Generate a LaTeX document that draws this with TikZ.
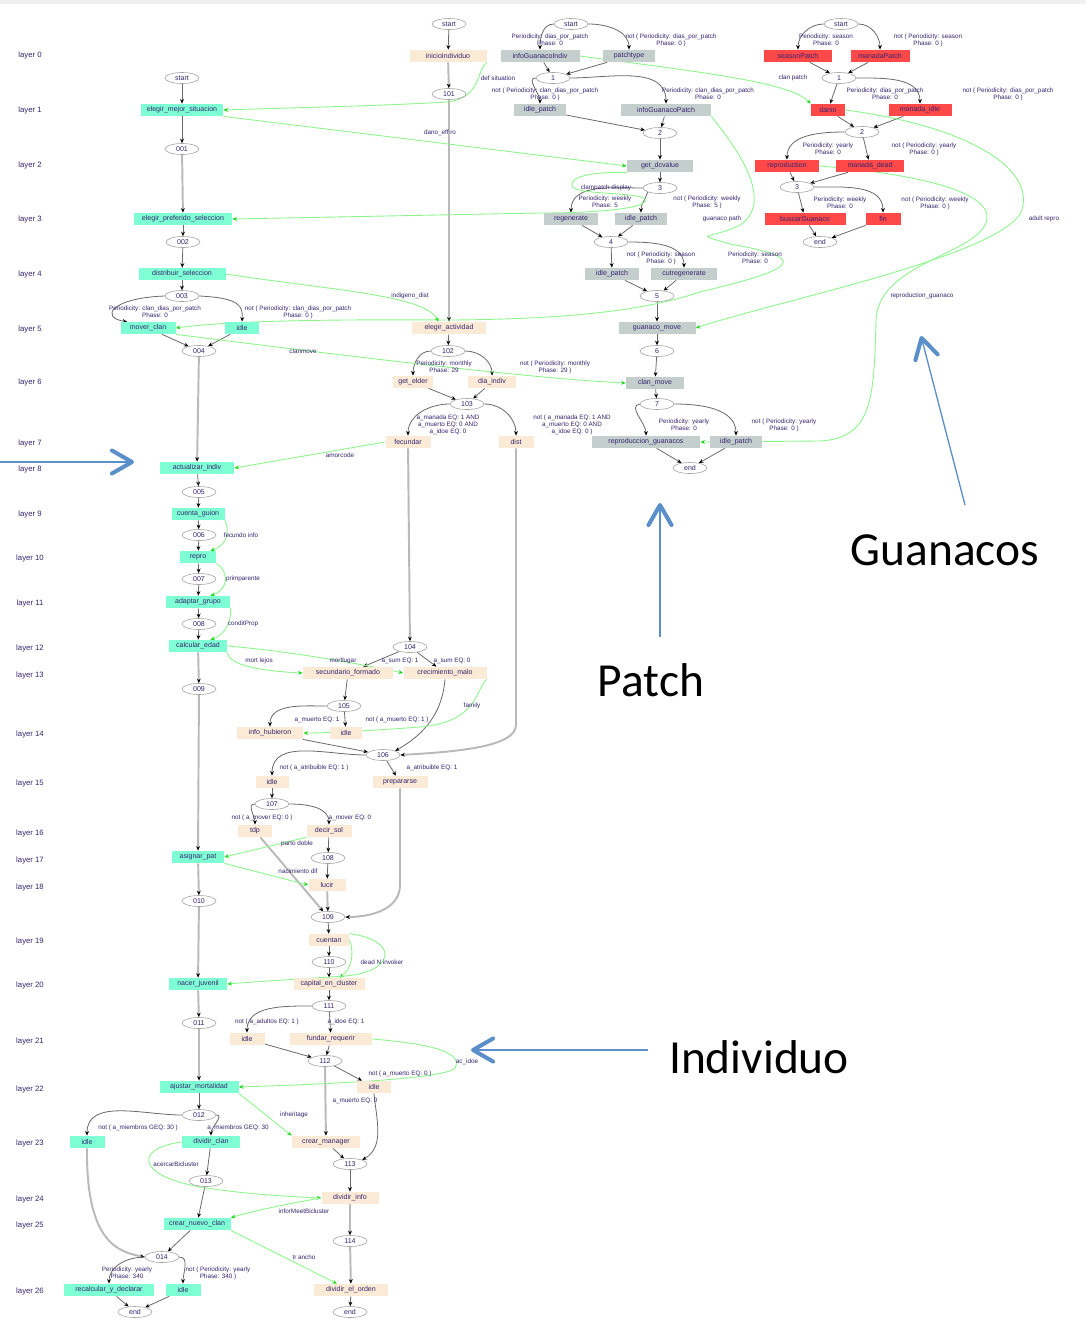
\documentclass[tikz,border=0pt]{standalone}
\usepackage{fontspec}
\setmainfont{Liberation Sans}
\newfontfamily\calloutfont{Carlito}
\usetikzlibrary{shapes.geometric,arrows.meta,positioning,backgrounds}

\definecolor{aqua}{RGB}{127,255,212}
\definecolor{peach}{RGB}{250,234,214}
\definecolor{patchgray}{RGB}{196,206,205}
\definecolor{guanred}{RGB}{255,72,72}
\definecolor{inktext}{RGB}{52,36,110}
\definecolor{edgegray}{RGB}{105,105,105}
\definecolor{linkgreen}{RGB}{140,245,140}
\definecolor{tipgreen}{RGB}{30,215,30}
\definecolor{callblue}{RGB}{91,143,201}

\begin{document}
\begin{tikzpicture}[x=0.02cm, y=-0.02cm,
    every node/.style={font=\fontsize{4}{4.6}\selectfont, text=inktext},
    boxw/.style={minimum width=#1*0.02cm},
    indbox/.style={rectangle, fill=aqua, minimum height=0.24cm, inner sep=1pt},
    actbox/.style={rectangle, fill=peach, minimum height=0.24cm, inner sep=1pt},
    patchbox/.style={rectangle, fill=patchgray, minimum height=0.24cm, inner sep=1pt},
    guanbox/.style={rectangle, fill=guanred, minimum height=0.24cm, inner sep=1pt},
    junction/.style={ellipse, draw=gray!70, fill=white, line width=0.35pt, minimum width=0.68cm, minimum height=0.22cm, inner sep=0pt},
    elabel/.style={font=\fontsize{3.6}{3.9}\selectfont, align=center, inner sep=0pt},
    layerlbl/.style={font=\fontsize{4.4}{5}\selectfont},
    flow/.style={draw=edgegray, line width=0.45pt, -{Stealth[length=2.6pt,width=2.2pt,color=black]}},
    trunk/.style={flow, draw=gray!55, line width=1.1pt},
    link/.style={draw=linkgreen, line width=0.5pt, -{Stealth[length=2.6pt,width=2.2pt,color=tipgreen]}},
    callout/.style={draw=callblue, line width=0.75pt, -{Straight Barb[length=4mm,width=4.6mm,line width=2.3pt,round]}},
    calltext/.style={font=\calloutfont\fontsize{27}{32}\selectfont, text=black, inner sep=0pt}]
\useasboundingbox (0,0) rectangle (1086,1319);

% layer numbers
\foreach \ly [count=\n from 0] in {55,110,165,219,274,329,382,443,469,514,558,603,648,675,734,783,833,860,887,941,985,1041,1089,1143,1199,1225,1291}
    \node (layer\n) [layerlbl] at (30,\ly) {layer \n};

% individual, main column
\node (sL) [junction] at (182,78) {start};
\node (g1) [indbox, boxw=82] at (182,110) {elegir\_mejor\_situacion};
\node (e001) [junction] at (182,149) {001};
\node (g2) [indbox, boxw=98] at (183,219) {elegir\_preferido\_seleccion};
\node (e002) [junction] at (183,242) {002};
\node (g3) [indbox, boxw=87] at (182,274) {distribuir\_seleccion};
\node (e003) [junction] at (182,296) {003};
\node (g4) [indbox, boxw=55] at (148,328) {mover\_clan};
\node (g5) [indbox, boxw=34] at (242,328) {idle};
\node (e004) [junction] at (199,351) {004};
\node (g6) [indbox, boxw=74] at (197,468) {actualizar\_indiv};
\node (e005) [junction] at (199,492) {005};
\node (g7) [indbox, boxw=53] at (198,514) {cuenta\_guion};
\node (e006) [junction] at (199,535) {006};
\node (g8) [indbox, boxw=36] at (198,557) {repro};
\node (e007) [junction] at (199,579) {007};
\node (g9) [indbox, boxw=64] at (198,602) {adaptar\_grupo};
\node (e008) [junction] at (199,624) {008};
\node (g10) [indbox, boxw=58] at (198,646) {calcular\_edad};
\node (e009) [junction] at (199,689) {009};
\node (g11) [indbox, boxw=52] at (198,857) {asignar\_pat};
\node (e010) [junction] at (199,901) {010};
\node (g12) [indbox, boxw=58] at (198,984) {nacer\_juvenil};
\node (e011) [junction] at (199,1023) {011};
\node (g13) [indbox, boxw=79] at (199,1087) {ajustar\_mortalidad};
\node (e012) [junction] at (199,1115) {012};
\node (g14) [indbox, boxw=35] at (87,1142) {idle};
\node (g15) [indbox, boxw=58] at (211,1142) {dividir\_clan};
\node (e013) [junction] at (206,1181) {013};
\node (g16) [indbox, boxw=67] at (197,1224) {crear\_nuevo\_clan};
\node (e014) [junction] at (162,1257) {014};
\node (g17) [indbox, boxw=90] at (109,1290) {recalcular\_y\_declarar};
\node (g18) [indbox, boxw=35] at (183,1290) {idle};
\node (endL) [junction] at (135,1312) {end};

% individual, actions
\node (sI) [junction] at (449,24) {start};
\node (p0) [actbox, boxw=77] at (448,56) {inicioIndividuo};
\node (e101) [junction] at (449,94) {101};
\node (p1) [actbox, boxw=74] at (449,328) {elegir\_actividad};
\node (e102) [junction] at (448,351) {102};
\node (p2) [actbox, boxw=40] at (413,382) {get\_elder};
\node (p3) [actbox, boxw=48] at (492,382) {dia\_indiv};
\node (e103) [junction] at (467,404) {103};
\node (p4) [actbox, boxw=45] at (408,442) {fecundar};
\node (p5) [actbox, boxw=35] at (516,442) {dist};
\node (e104) [junction] at (410,647) {104};
\node (p6) [actbox, boxw=90] at (348,673) {secundario\_formado};
\node (p7) [actbox, boxw=83] at (445,673) {crecimiento\_malo};
\node (e105) [junction] at (344,706) {105};
\node (p8) [actbox, boxw=66] at (270,733) {info\_hubieron};
\node (p9) [actbox, boxw=32] at (346,733) {idle};
\node (e106) [junction] at (383,755) {106};
\node (p10) [actbox, boxw=33] at (272,782) {idle};
\node (p11) [actbox, boxw=55] at (400,782) {prepararse};
\node (e107) [junction] at (272,804) {107};
\node (p12) [actbox, boxw=34] at (255,831) {tdp};
\node (p13) [actbox, boxw=45] at (329,831) {decir\_sol};
\node (e108) [junction] at (328,858) {108};
\node (p14) [actbox, boxw=37] at (327,885) {lucir};
\node (e109) [junction] at (328,917) {109};
\node (p15) [actbox, boxw=40] at (329,940) {cuentan};
\node (e110) [junction] at (329,962) {110};
\node (p16) [actbox, boxw=71] at (329,984) {capital\_en\_cluster};
\node (e111) [junction] at (329,1006) {111};
\node (p17) [actbox, boxw=35] at (247,1039) {idle};
\node (p18) [actbox, boxw=82] at (331,1039) {fundar\_requerir};
\node (e112) [junction] at (325,1061) {112};
\node (p19) [actbox, boxw=34] at (374,1087) {idle};
\node (p20) [actbox, boxw=68] at (326,1142) {crear\_manager};
\node (e113) [junction] at (350,1164) {113};
\node (p21) [actbox, boxw=57] at (350,1198) {dividir\_info};
\node (e114) [junction] at (350,1241) {114};
\node (p22) [actbox, boxw=74] at (351,1290) {dividir\_el\_orden};
\node (endM) [junction] at (350,1312) {end};

% patch
\node (sP) [junction] at (571,24) {start};
\node (pg1) [patchbox, boxw=79] at (540,56) {infoGuanacoIndiv};
\node (pg2) [patchbox, boxw=52] at (629,56) {patchtype};
\node (eP1) [junction] at (553,78) {1};
\node (pg3) [patchbox, boxw=52] at (540,110) {idle\_patch};
\node (pg4) [patchbox, boxw=90] at (666,110) {infoGuanacoPatch};
\node (eP2) [junction] at (660,133) {2};
\node (pg5) [patchbox, boxw=66] at (660,166) {get\_dcvalue};
\node (eP3) [junction] at (660,188) {3};
\node (pg6) [patchbox, boxw=54] at (571,219) {regenerate};
\node (pg7) [patchbox, boxw=52] at (641,219) {idle\_patch};
\node (eP4) [junction] at (611,242) {4};
\node (pg8) [patchbox, boxw=54] at (612,274) {idle\_patch};
\node (pg9) [patchbox, boxw=66] at (684,274) {cutregenerate};
\node (eP5) [junction] at (657,296) {5};
\node (pg10) [patchbox, boxw=77] at (657,328) {guanaco\_move};
\node (eP6) [junction] at (657,351) {6};
\node (pg11) [patchbox, boxw=58] at (655,383) {clan\_move};
\node (eP7) [junction] at (657,404) {7};
\node (pg12) [patchbox, boxw=108] at (646,442) {reproduccion\_guanacos};
\node (pg13) [patchbox, boxw=52] at (736,442) {idle\_patch};
\node (endP) [junction] at (690,468) {end};

% guanacos
\node (sG) [junction] at (841,24) {start};
\node (rg1) [guanbox, boxw=68] at (798,56) {seasonPatch};
\node (rg2) [guanbox, boxw=59] at (880,56) {manadaPatch};
\node (eG1) [junction] at (839,78) {1};
\node (rg3) [guanbox, boxw=34] at (828,110) {danio};
\node (rg4) [guanbox, boxw=63] at (920,110) {manada\_idle};
\node (eG2) [junction] at (862,132) {2};
\node (rg5) [guanbox, boxw=64] at (787,166) {reproduction};
\node (rg6) [guanbox, boxw=68] at (870,166) {manada\_dead};
\node (eG3) [junction] at (797,187) {3};
\node (rg7) [guanbox, boxw=81] at (805,219) {buscarGuanaco};
\node (rg8) [guanbox, boxw=35] at (883,219) {fin};
\node (endG) [junction] at (820,242) {end};

% branch labels
\node (lbA1) [elabel] at (155,312) {Periodicity: clan\_dias\_por\_patch\\Phase: 0};
\node (lbA2) [elabel] at (298,312) {not ( Periodicity: clan\_dias\_por\_patch\\Phase: 0 )};
\node (lbA3) [elabel] at (138,1128) {not ( a\_miembros GEQ: 30 )};
\node (lbA4) [elabel] at (238,1128) {a\_miembros GEQ: 30};
\node (lbA5) [elabel] at (127,1273) {Periodicity: yearly\\Phase: 340};
\node (lbA6) [elabel] at (218,1273) {not ( Periodicity: yearly\\Phase: 340 )};
\node (lbB1) [elabel] at (444,367) {Periodicity: monthly\\Phase: 29};
\node (lbB2) [elabel] at (555,367) {not ( Periodicity: monthly\\Phase: 29 )};
\node (lbB3) [elabel] at (448,425) {a\_manada EQ: 1 AND\\a\_muerto EQ: 0 AND\\a\_idoe EQ: 0};
\node (lbB4) [elabel] at (572,425) {not ( a\_manada EQ: 1 AND\\a\_muerto EQ: 0 AND\\a\_idoe EQ: 0 )};
\node (lbB5) [elabel] at (400,661) {a\_sum EQ: 1};
\node (lbB6) [elabel] at (452,661) {a\_sum EQ: 0};
\node (lbB7) [elabel] at (317,720) {a\_muerto EQ: 1};
\node (lbB8) [elabel] at (397,720) {not ( a\_muerto EQ: 1 )};
\node (lbB9) [elabel] at (314,768) {not ( a\_atribuible EQ: 1 )};
\node (lbB10) [elabel] at (432,768) {a\_atribuible EQ: 1};
\node (lbB11) [elabel] at (262,818) {not ( a\_mover EQ: 0 )};
\node (lbB12) [elabel] at (350,818) {a\_mover EQ: 0};
\node (lbB13) [elabel] at (267,1022) {not ( a\_adultos EQ: 1 )};
\node (lbB14) [elabel] at (346,1022) {a\_idoe EQ: 1};
\node (lbB15) [elabel] at (400,1074) {not ( a\_muerto EQ: 0 )};
\node (lbB16) [elabel] at (355,1101) {a\_muerto EQ: 0};
\node (lbC1) [elabel] at (550,40) {Periodicity: dias\_por\_patch\\Phase: 0};
\node (lbC2) [elabel] at (671,40) {not ( Periodicity: dias\_por\_patch\\Phase: 0 )};
\node (lbC3) [elabel] at (545,94) {not ( Periodicity: clan\_dias\_por\_patch\\Phase: 0 )};
\node (lbC4) [elabel] at (708,94) {Periodicity: clan\_dias\_por\_patch\\Phase: 0};
\node (lbC5) [elabel] at (605,202) {Periodicity: weekly\\Phase: 5};
\node (lbC6) [elabel] at (707,202) {not ( Periodicity: weekly\\Phase: 5 )};
\node (lbC7) [elabel] at (661,258) {not ( Periodicity: season\\Phase: 0 )};
\node (lbC8) [elabel] at (755,258) {Periodicity: season\\Phase: 0};
\node (lbC9) [elabel] at (684,425) {Periodicity: yearly\\Phase: 0};
\node (lbC10) [elabel] at (784,425) {not ( Periodicity: yearly\\Phase: 0 )};
\node (lbD1) [elabel] at (826,40) {Periodicity: season\\Phase: 0};
\node (lbD2) [elabel] at (928,40) {not ( Periodicity: season\\Phase: 0 )};
\node (lbD3) [elabel] at (885,94) {Periodicity: dias\_por\_patch\\Phase: 0};
\node (lbD4) [elabel] at (1008,94) {not ( Periodicity: dias\_por\_patch\\Phase: 0 )};
\node (lbD5) [elabel] at (828,149) {Periodicity: yearly\\Phase: 0};
\node (lbD6) [elabel] at (924,149) {not ( Periodicity: yearly\\Phase: 0 )};
\node (lbD7) [elabel] at (840,203) {Periodicity: weekly\\Phase: 0};
\node (lbD8) [elabel] at (935,203) {not ( Periodicity: weekly\\Phase: 0 )};

% message labels
\node (lbG1) [elabel] at (498,78) {def situation};
\node (lbG2) [elabel] at (440,133) {dano\_eff ro};
\node (lbG3) [elabel] at (793,78) {clan patch};
\node (lbG4) [elabel] at (1044,219) {adult repro};
\node (lbG5) [elabel] at (922,296) {reproduction\_guanaco};
\node (lbG6) [elabel] at (722,219) {guanaco path};
\node (lbG7) [elabel] at (606,188) {clampatch display};
\node (lbG8) [elabel] at (410,296) {indigeno\_dist};
\node (lbG9) [elabel] at (303,351) {clanmove};
\node (lbG10) [elabel] at (340,455) {amorcode};
\node (lbG11) [elabel] at (241,535) {fecundo info};
\node (lbG12) [elabel] at (243,579) {primparente};
\node (lbG13) [elabel] at (243,624) {conditProp};
\node (lbG14) [elabel] at (259,661) {mort lejos};
\node (lbG15) [elabel] at (343,661) {mortlugar};
\node (lbG16) [elabel] at (472,706) {family};
\node (lbG17) [elabel] at (297,844) {parto doble};
\node (lbG18) [elabel] at (298,871) {nacimiento dif};
\node (lbG19) [elabel] at (382,962) {dead N invoker};
\node (lbG20) [elabel] at (467,1062) {ac\_idoe};
\node (lbG21) [elabel] at (294,1115) {inheritage};
\node (lbG22) [elabel] at (176,1164) {acercarBicluster};
\node (lbG23) [elabel] at (304,1211) {inforMeetBicluster};
\node (lbG24) [elabel] at (304,1257) {tr ancho};

\begin{scope}[on background layer]
    \fill[white] (0,0) rectangle (1086,1319);
    \fill[gray!12] (0,0) rectangle (1086,4);

    % individual flow
    \draw[flow] (sL) -- (g1);
    \draw[flow] (g1) -- (e001);
    \draw[trunk] (e001) -- (g2);
    \draw[flow] (g2) -- (e002);
    \draw[flow] (e002) -- (g3);
    \draw[flow] (g3) -- (e003);
    \draw[flow] (e003.west) .. controls (110,298) and (100,318) .. ([xshift=4pt]g4.north west);
    \draw[flow] (e003.east) .. controls (240,298) and (243,306) .. (g5.north);
    \draw[flow] (g4) -- (e004);
    \draw[flow] (g5) -- (e004);
    \draw[trunk] (e004) -- (g6);
    \draw[flow] (g6) -- (e005);
    \draw[flow] (e005) -- (g7);
    \draw[flow] (g7) -- (e006);
    \draw[flow] (e006) -- (g8);
    \draw[flow] (g8) -- (e007);
    \draw[flow] (e007) -- (g9);
    \draw[flow] (g9) -- (e008);
    \draw[flow] (e008) -- (g10);
    \draw[trunk] (g10) -- (e009);
    \draw[trunk] (e009) -- (g11);
    \draw[trunk] (g11) -- (e010);
    \draw[trunk] (e010) -- (g12);
    \draw[trunk] (g12) -- (e011);
    \draw[trunk] (e011) -- (g13);
    \draw[flow] (g13) -- (e012);
    \draw[flow] (e012.west) to[out=180,in=90] (g14.north);
    \draw[flow] (e012.east) to[out=0,in=90] (g15.north);
    \draw[trunk] (g14.south) .. controls (86,1245) and (120,1252) .. (e014.west);
    \draw[flow] (g15) -- (e013);
    \draw[flow] (e013) -- (g16);
    \draw[flow] (g16) -- (e014);
    \draw[flow] (e014.west) to[out=180,in=90] (g17.north);
    \draw[flow] (e014.east) to[out=0,in=90] (g18.north);
    \draw[flow] (g17) -- (endL);
    \draw[flow] (g18) -- (endL);

    % action flow
    \draw[flow] (sI) -- (p0);
    \draw[trunk] (p0) -- (e101);
    \draw[trunk] (e101) -- (p1);
    \draw[flow] (p1) -- (e102);
    \draw[flow] (e102.west) to[out=180,in=90] (p2.north);
    \draw[flow] (e102.east) to[out=0,in=90] (p3.north);
    \draw[flow] (p2) -- (e103);
    \draw[flow] (p3) -- (e103);
    \draw[flow] (e103.west) to[out=180,in=90] (p4.north);
    \draw[flow] (e103.east) to[out=0,in=90] (p5.north);
    \draw[trunk] (p4) -- (e104);
    \draw[trunk] (p5.south) -- (516,725) .. controls (516,748) and (450,752) .. (e106.east);
    \draw[flow] (e104) -- (p6);
    \draw[flow] (e104) -- (p7);
    \draw[flow] (p6) -- (e105);
    \draw[flow] (e105.west) to[out=180,in=90] (p8.north);
    \draw[flow] (e105) -- (p9);
    \draw[flow] (p8) -- (e106);
    \draw[flow] (p7.south) to[out=265,in=30] (e106.north east);
    \draw[flow] (e106.west) to[out=180,in=90] (p10.north);
    \draw[flow] (e106) -- (p11);
    \draw[flow] (p10) -- (e107);
    \draw[flow] (e107.west) to[out=180,in=90] (p12.north);
    \draw[flow] (e107.east) to[out=0,in=90] (p13.north);
    \draw[trunk] (p12) -- (e109);
    \draw[flow] (p13) -- (e108);
    \draw[flow] (e108) -- (p14);
    \draw[trunk] (p14) -- (e109);
    \draw[trunk] (p11.south) -- (400,885) to[out=270,in=0] (e109.east);
    \draw[flow] (e109) -- (p15);
    \draw[flow] (p15) -- (e110);
    \draw[flow] (e110) -- (p16);
    \draw[flow] (p16) -- (e111);
    \draw[flow] (e111.west) to[out=180,in=90] (p17.north);
    \draw[flow] (e111) -- (p18);
    \draw[flow] (p17) -- (e112);
    \draw[flow] (p18) -- (e112);
    \draw[flow] (e112) -- (p19);
    \draw[trunk] (e112) -- (p20);
    \draw[flow] (p19.south) to[out=275,in=30] (e113.north east);
    \draw[flow] (p20) -- (e113);
    \draw[flow] (e113) -- (p21);
    \draw[trunk] (p21) -- (e114);
    \draw[trunk] (e114) -- (p22);
    \draw[flow] (p22) -- (endM);

    % patch flow
    \draw[flow] (sP.west) to[out=180,in=90] (pg1.north);
    \draw[flow] (sP.east) to[out=0,in=90] (pg2.north);
    \draw[flow] (pg1) -- (eP1);
    \draw[flow] (pg2) -- (eP1);
    \draw[flow] (eP1.west) to[out=180,in=90] (pg3.north);
    \draw[flow] (eP1.east) to[out=0,in=90] (pg4.north);
    \draw[flow] (pg3) -- (eP2);
    \draw[flow] (pg4) -- (eP2);
    \draw[flow] (eP2) -- (pg5);
    \draw[flow] (pg5) -- (eP3);
    \draw[flow] (eP3.west) to[out=180,in=90] (pg6.north);
    \draw[flow] (eP3.south west) to[out=250,in=90] (pg7.north);
    \draw[flow] (pg6) -- (eP4);
    \draw[flow] (pg7) -- (eP4);
    \draw[flow] (eP4) -- (pg8);
    \draw[flow] (eP4.east) to[out=0,in=90] (pg9.north);
    \draw[flow] (pg8) -- (eP5);
    \draw[flow] (pg9) -- (eP5);
    \draw[flow] (eP5) -- (pg10);
    \draw[flow] (pg10) -- (eP6);
    \draw[flow] (eP6) -- (pg11);
    \draw[flow] (pg11) -- (eP7);
    \draw[flow] (eP7.west) to[out=190,in=90] (pg12.north);
    \draw[flow] (eP7.east) to[out=0,in=90] (pg13.north);
    \draw[flow] (pg12) -- (endP);
    \draw[flow] (pg13) -- (endP);

    % guanaco flow
    \draw[flow] (sG.west) to[out=180,in=90] (rg1.north);
    \draw[flow] (sG.east) to[out=0,in=90] (rg2.north);
    \draw[flow] (rg1) -- (eG1);
    \draw[flow] (rg2) -- (eG1);
    \draw[flow] (eG1) -- (rg3);
    \draw[flow] (eG1.east) to[out=0,in=90] (rg4.north);
    \draw[flow] (rg3) -- (eG2);
    \draw[flow] (rg4) -- (eG2);
    \draw[flow] (eG2.west) to[out=180,in=90] (rg5.north);
    \draw[flow] (eG2) -- (rg6);
    \draw[flow] (rg5) -- (eG3);
    \draw[flow] (rg6) -- (eG3);
    \draw[flow] (eG3) -- (rg7);
    \draw[flow] (eG3.east) to[out=0,in=90] (rg8.north);
    \draw[flow] (rg7) -- (endG);
    \draw[flow] (rg8) -- (endG);

    % messages between agents
    \draw[link] (p0.south east) .. controls (476,70) and (482,98) .. (447,102) .. controls (380,106) and (280,108) .. (g1.east);
    \draw[link] (g1.south east) -- (pg5.west);
    \draw[link] (pg1.east) .. controls (700,72) and (790,82) .. (rg3.north west);
    \draw[link] (rg3.east) .. controls (960,125) and (1035,165) .. (1022,210) .. controls (1005,255) and (780,300) .. (pg10.east);
    \draw[link] (rg5.east) .. controls (930,175) and (1000,195) .. (985,225) .. controls (970,255) and (878,265) .. (876,320) .. controls (874,400) and (872,438) .. (820,441) -- (pg12.east);
    \draw[link] (pg4.south east) .. controls (730,140) and (778,200) .. (740,225) .. controls (710,240) and (690,232) .. (730,244) .. controls (810,258) and (800,268) .. (700,292) .. controls (660,305) and (600,319) .. (450,320) .. controls (300,319) and (220,322) .. (g4.east);
    \draw[link] (pg5.south west) .. controls (592,172) and (570,176) .. (572,186) .. controls (574,195) and (640,192) .. (645,199) .. controls (650,208) and (600,213) .. (540,213) -- (g2.east);
    \draw[link] (g3.east) .. controls (330,290) and (425,295) .. ([xshift=-6pt]p1.north);
    \draw[link] (g4.south east) .. controls (300,350) and (520,378) .. (pg11.west);
    \draw[link] (p4.west) -- (g6.east);
    \draw[link] (g7.south east) .. controls (230,530) and (228,545) .. ([xshift=7pt]g8.north);
    \draw[link] (g8.south east) .. controls (230,572) and (228,590) .. ([xshift=7pt]g9.north);
    \draw[link] (g9.south east) .. controls (232,616) and (228,634) .. ([xshift=7pt]g10.north);
    \draw[link] (g10.south east) .. controls (228,665) and (260,671) .. (p6.west);
    \draw[link] (g10.east) .. controls (300,652) and (380,668) .. (p7.west);
    \draw[link] (p7.south east) .. controls (475,690) and (478,722) .. (420,727) .. controls (380,730) and (330,733) .. (p8.east);
    \draw[link] (p13.south west) -- (g11.east);
    \draw[link] (g11.south east) -- (p14.west);
    \draw[link] (p15.east) .. controls (352,945) and (356,965) .. ([xshift=6pt]p16.north);
    \draw[link] (p15.north east) .. controls (400,940) and (395,972) .. (345,976) .. controls (300,979) and (250,982) .. (g12.east);
    \draw[link] (p18.east) .. controls (420,1043) and (465,1050) .. (455,1068) .. controls (445,1080) and (300,1085) .. (g13.east);
    \draw[link] (g13.south east) -- (p20.north west);
    \draw[link] (g15.west) .. controls (135,1148) and (135,1175) .. (200,1187) .. controls (250,1195) and (300,1197) .. (p21.west);
    \draw[link] (p21.west) .. controls (280,1205) and (250,1212) .. (g16.north east);
    \draw[link] (g16.south east) -- ([xshift=-8pt]p22.north);
\end{scope}

% annotations
\node (guanTxt) [calltext] at (945,550) {Guanacos};
\node (patchTxt) [calltext] at (651,680) {Patch};
\node (indivTxt) [calltext] at (759,1057) {Individuo};
\coordinate (tailL) at (0,462);
\coordinate (tipL) at (134,462);
\coordinate (tailG) at (965,505);
\coordinate (tipG) at (921,336);
\coordinate (tailP) at (660,637);
\coordinate (tipP) at (660,503);
\coordinate (tailI) at (648,1050);
\coordinate (tipI) at (471,1050);
\draw[callout] (tailL) -- (tipL);
\draw[callout] (tailG) -- (tipG);
\draw[callout] (tailP) -- (tipP);
\draw[callout] (tailI) -- (tipI);
\end{tikzpicture}
\end{document}
